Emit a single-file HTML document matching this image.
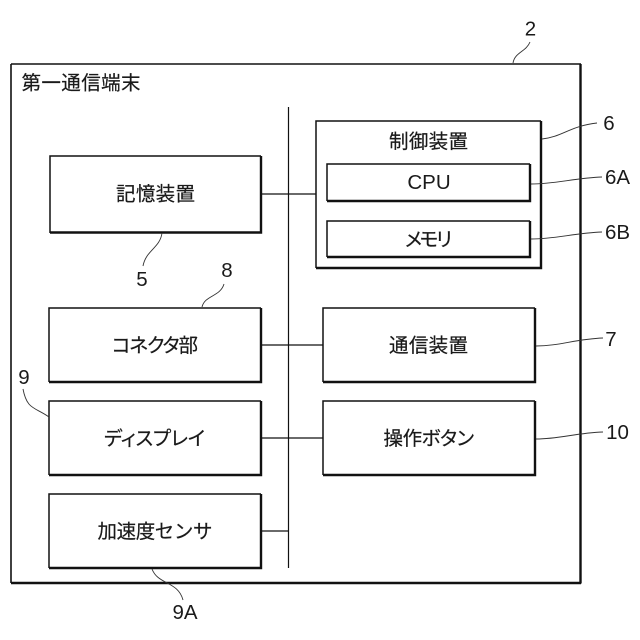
<!DOCTYPE html>
<html>
<head>
<meta charset="utf-8">
<style>
html,body{margin:0;padding:0;background:#fff}
svg{display:block}
text{font-family:"Liberation Sans","Noto Sans CJK JP",sans-serif;fill:#1a1a1a;font-size:19.5px;stroke:#1a1a1a;stroke-width:.2}
.m{text-anchor:middle}
.n{font-size:20.5px;stroke-width:0}
.p{font-feature-settings:"palt"}
</style>
</head>
<body>
<svg width="640" height="640" viewBox="0 0 640 640" xmlns="http://www.w3.org/2000/svg">
<rect width="640" height="640" fill="#fff"/>
<g fill="none" stroke="#111">
<!-- outer box -->
<path d="M11 64H581" stroke-width="1.6"/><path d="M11 64V583" stroke-width="1.6"/>
<path d="M580.5 64V583.5" stroke-width="2.4"/><path d="M11 583H581" stroke-width="2.4"/>
<!-- bus -->
<path d="M288.5 107V568" stroke-width="1.2"/>
<path d="M261 194H316M261 345H323M261 438H323M261 531H288" stroke-width="1.2"/>
<!-- thin top/left -->
<g stroke-width="1.5">
<path d="M50 233V156H261"/>
<path d="M49 382V308H261"/>
<path d="M49 475V401H261"/>
<path d="M49 568V494H261"/>
<path d="M323 382V308H535"/>
<path d="M323 475V401H535"/>
<path d="M316 268V121H541"/>
<path d="M327 201V164H530"/>
<path d="M327 257V221H530"/>
</g>
<!-- thick bottom/right -->
<g stroke-width="2.4">
<path d="M50 232.5H261V156"/>
<path d="M49 382H261V308"/>
<path d="M49 475H261V401"/>
<path d="M49 568H261V494"/>
<path d="M323 382H535V308"/>
<path d="M323 475H535V401"/>
<path d="M316 268H541V121"/>
<path d="M327 201H530V164"/>
<path d="M327 257H530V221"/>
</g>
<!-- leaders -->
<g stroke-width="0.9" stroke="#333">
<path d="M513 63C515 52 526 52 530 42"/>
<path d="M542 139C562 137 570 126 597 123"/>
<path d="M531 184C555 184 575 178 602 177"/>
<path d="M531 239C555 239 575 233 602 232"/>
<path d="M536 346C560 346 575 339 603 338"/>
<path d="M536 439C560 439 575 433 603 432"/>
<path d="M162 233C160 248 146 250 143 266"/>
<path d="M202 307C205 295 220 297 224 284"/>
<path d="M23 389C27 410 35 407 49 417"/>
<path d="M152 569C158 585 178 581 183 600"/>
</g>
</g>
<text x="21.5" y="89.5" textLength="119" lengthAdjust="spacing">第一通信端末</text>
<text x="116" y="200.5" textLength="79" lengthAdjust="spacing">記憶装置</text>
<text class="p" x="112" y="352" textLength="86" lengthAdjust="spacing">コネクタ部</text>
<text class="p" x="104" y="445" textLength="101" lengthAdjust="spacing">ディスプレイ</text>
<text x="97.5" y="538" textLength="115" lengthAdjust="spacing">加速度センサ</text>
<text x="389" y="148" textLength="79" lengthAdjust="spacing">制御装置</text>
<text class="m n" x="429" y="189">CPU</text>
<text class="p" x="405" y="246" textLength="47" lengthAdjust="spacing">メモリ</text>
<text x="389" y="352" textLength="79" lengthAdjust="spacing">通信装置</text>
<text class="p" x="383.5" y="445" textLength="90.5" lengthAdjust="spacing">操作ボタン</text>
<text class="m n" x="530.5" y="35.5">2</text>
<text class="m n" x="609" y="130">6</text>
<text class="m n" x="617.5" y="184">6A</text>
<text class="m n" x="617.5" y="239">6B</text>
<text class="m n" x="611" y="346">7</text>
<text class="m n" x="617.5" y="439">10</text>
<text class="m n" x="142" y="286">5</text>
<text class="m n" x="227" y="277">8</text>
<text class="m n" x="24" y="384">9</text>
<text class="m n" x="185" y="619">9A</text>
</svg>
</body>
</html>
